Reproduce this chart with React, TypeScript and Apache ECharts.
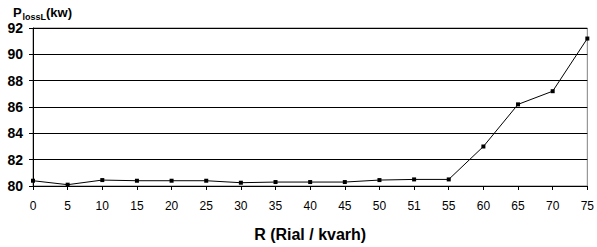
import React, { useEffect, useRef } from "react";
import * as echarts from "echarts";

const categories = ["0", "5", "10", "15", "20", "25", "30", "35", "40", "45", "50", "51", "55", "60", "65", "70", "75"];
const plossValues = [80.4, 80.1, 80.45, 80.4, 80.4, 80.4, 80.25, 80.3, 80.3, 80.3, 80.45, 80.5, 80.5, 83.0, 86.2, 87.2, 91.2];
const yMin = 80;
const yMax = 92;
const yStep = 2;

export default function App() {
  const ref = useRef<HTMLDivElement>(null);
  useEffect(() => {
    if (!ref.current) return;
    const chart = echarts.init(ref.current, undefined, { renderer: "svg" });
    chart.setOption({
      animation: false,
      backgroundColor: "#ffffff",
      grid: {
        left: 33,
        right: 9,
        top: 28,
        bottom: 61,
        show: true,
        borderColor: "#808080",
        borderWidth: 1,
      },
      graphic: [
        { type: "text", left: 13, top: 6, style: { text: "P", font: "bold 13px Arial", fill: "#000" } },
        { type: "text", left: 22.5, top: 12, style: { text: "lossL", font: "bold 9px Arial", fill: "#000" } },
        { type: "text", left: 46, top: 6, style: { text: "(kw)", font: "bold 13px Arial", fill: "#000" } },
      ],
      xAxis: {
        type: "category",
        data: categories,
        boundaryGap: false,
        name: "R (Rial / kvarh)",
        nameLocation: "middle",
        nameGap: 40,
        nameTextStyle: { fontFamily: "Arial", fontWeight: "bold", fontSize: 16, color: "#000" },
        axisLine: { lineStyle: { color: "#000", width: 1 } },
        axisTick: { show: true, alignWithLabel: true, length: 4, lineStyle: { color: "#000" } },
        axisLabel: { fontFamily: "Arial", fontSize: 12, color: "#000", margin: 14, interval: 0 },
        splitLine: { show: false },
      },
      yAxis: {
        type: "value",
        min: yMin,
        max: yMax,
        interval: yStep,
        axisLine: { show: true, lineStyle: { color: "#000", width: 1 } },
        axisTick: { show: true, length: 4, lineStyle: { color: "#000" } },
        axisLabel: { fontFamily: "Arial", fontSize: 14, fontWeight: "bold", color: "#000", margin: 10 },
        splitLine: { show: true, lineStyle: { color: "#000", width: 1 } },
      },
      series: [
        {
          type: "line",
          data: plossValues,
          symbol: "rect",
          symbolSize: 4,
          showAllSymbol: true,
          lineStyle: { color: "#000", width: 1 },
          itemStyle: { color: "#000" },
        },
      ],
    });
    return () => chart.dispose();
  }, []);
  return <div ref={ref} style={{ width: 597, height: 247, position: "absolute", left: 0, top: 0 }} />;
}
